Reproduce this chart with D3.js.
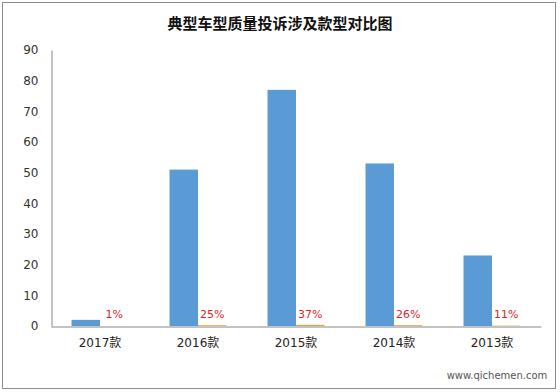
<!DOCTYPE html>
<html>
<head>
<meta charset="utf-8">
<script src="https://cdn.jsdelivr.net/npm/d3@7"></script>
<style>
	body { margin: 0; background: #fff; }
	svg text { font-family: "Liberation Sans", "Noto Sans CJK SC", sans-serif; }
</style>
</head>
<body>
<div id="box"></div>
<script>
const title = '典型车型质量投诉涉及款型对比图';
const categories = ['2017款', '2016款', '2015款', '2014款', '2013款'];
const counts = [2, 51, 77, 53, 23];
const shares = [0.01, 0.25, 0.37, 0.26, 0.11];
const yTicks = [0, 10, 20, 30, 40, 50, 60, 70, 80, 90];

const width = 560;
const height = 392;

const marginTop = 50;
const marginRight = 19;
const marginBottom = 66;
const marginLeft = 51;

const svg = d3.select('#box').append('svg')
	.attr('width', width)
	.attr('height', height)
	.attr('viewBox', [0, 0, width, height]);

// outer frame
svg.append('rect')
	.attr('x', 2.5).attr('y', 2.5)
	.attr('width', 553).attr('height', 386)
	.attr('fill', '#fff')
	.attr('stroke', '#8c8c8c');

svg.append('text')
	.attr('x', 280)
	.attr('y', 29)
	.attr('text-anchor', 'middle')
	.attr('font-size', 15)
	.attr('font-weight', 'bold')
	.style('font-family', '"Noto Sans CJK SC", sans-serif')
	.attr('fill', '#111')
	.text(title);

const xScale = d3.scaleBand(categories, [marginLeft, width - marginRight]).paddingInner(0).paddingOuter(0);
const inner = d3.scaleBand([0, 1], [0, xScale.bandwidth()]).paddingInner(0).paddingOuter(0.72);
const yScale = d3.scaleLinear([0, 90], [height - marginBottom, marginTop]);

const yAxis = d3.axisLeft(yScale).tickValues(yTicks).tickSize(0).tickPadding(13);
const xAxis = d3.axisBottom(xScale).tickSize(0).tickPadding(12);

svg.append('g')
	.attr('transform', `translate(${marginLeft + 0.5},0)`)
	.call(yAxis)
	.call(g => g.select('.domain').attr('stroke', '#868686'))
	.call(g => g.selectAll('text').attr('font-size', 12).attr('fill', '#333')
		.style('font-family', '"DejaVu Sans", sans-serif'));

// blue bars
svg.append('g')
	.selectAll('rect')
	.data(counts)
	.join('rect')
	.attr('x', (_, i) => xScale(categories[i]) + inner(0))
	.attr('y', d => yScale(d))
	.attr('width', inner.bandwidth())
	.attr('height', d => yScale(0) - yScale(d))
	.attr('fill', '#5b9bd5');

// share bars (tiny on this scale)
svg.append('g')
	.selectAll('rect')
	.data(shares)
	.join('rect')
	.attr('x', (_, i) => xScale(categories[i]) + inner(1))
	.attr('y', d => yScale(d))
	.attr('width', inner.bandwidth())
	.attr('height', d => yScale(0) - yScale(d))
	.attr('fill', '#ed9b3c');

svg.append('g')
	.selectAll('text')
	.data(shares)
	.join('text')
	.attr('x', (_, i) => xScale(categories[i]) + inner(1) + inner.bandwidth() / 2)
	.attr('y', yScale(0) - 8.5)
	.attr('text-anchor', 'middle')
	.attr('font-size', 11)
	.attr('fill', '#d9262b')
	.style('font-family', '"DejaVu Sans", sans-serif')
	.text(d => d3.format('.0%')(d));

svg.append('g')
	.attr('transform', `translate(0,${height - marginBottom + 0.5})`)
	.call(xAxis)
	.call(g => g.select('.domain').attr('stroke', '#868686'))
	.call(g => g.selectAll('text').attr('font-size', 12).attr('fill', '#222')
		.style('font-family', '"DejaVu Sans", "Noto Sans CJK SC", sans-serif'));

// watermark
svg.append('text')
	.attr('x', 497)
	.attr('y', 379)
	.attr('text-anchor', 'middle')
	.attr('font-size', 10)
	.attr('fill', '#555')
	.style('font-family', '"DejaVu Sans", sans-serif')
	.text('www.qichemen.com');
</script>
</body>
</html>
